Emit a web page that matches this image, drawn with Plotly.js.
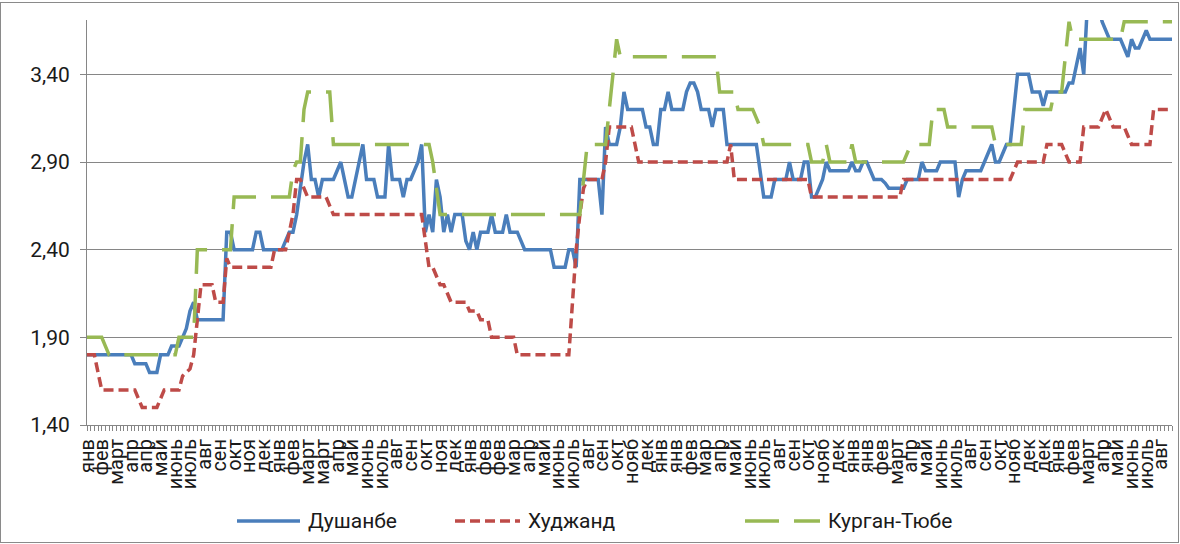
<!DOCTYPE html>
<html><head><meta charset="utf-8">
<script src="https://cdn.plot.ly/plotly-3.0.1.min.js"></script>
<style>
html,body{margin:0;padding:0;background:#fff;}
#wrap{position:relative;width:1180px;height:544px;overflow:hidden;}
#chart{position:absolute;left:0;top:0;width:1180px;height:544px;}
#frame{position:absolute;left:0;top:2px;width:1177px;height:539px;border:1px solid #8a8a8a;pointer-events:none;}
</style></head><body>
<div id="wrap"><div id="chart"></div><div id="frame"></div></div>
<script>
const dushanbe = [
1.80,1.80,1.80,1.80,1.80,1.80,1.80,1.80,1.80,1.80,
1.80,1.80,1.80,1.75,1.75,1.75,1.75,1.70,1.70,1.70,
1.80,1.80,1.80,1.85,1.85,1.85,1.90,1.95,2.05,2.10,
2.00,2.00,2.00,2.00,2.00,2.00,2.00,2.00,2.50,2.50,
2.40,2.40,2.40,2.40,2.40,2.40,2.50,2.50,2.40,2.40,
2.40,2.40,2.40,2.40,2.45,2.50,2.50,2.60,2.75,2.90,
3.00,2.80,2.80,2.70,2.80,2.80,2.80,2.80,2.85,2.90,
2.80,2.70,2.70,2.80,2.90,3.00,2.80,2.80,2.80,2.70,
2.70,2.70,3.00,2.80,2.80,2.80,2.70,2.80,2.80,2.85,
2.90,3.00,2.50,2.60,2.50,2.80,2.70,2.50,2.60,2.50,
2.60,2.60,2.60,2.45,2.40,2.50,2.40,2.50,2.50,2.50,
2.60,2.50,2.50,2.50,2.60,2.50,2.50,2.50,2.45,2.40,
2.40,2.40,2.40,2.40,2.40,2.40,2.40,2.30,2.30,2.30,
2.30,2.40,2.40,2.30,2.80,2.80,2.80,2.80,2.80,2.80,
2.60,3.10,3.00,3.00,3.00,3.10,3.30,3.20,3.20,3.20,
3.20,3.20,3.10,3.10,3.00,3.00,3.20,3.20,3.30,3.20,
3.20,3.20,3.20,3.30,3.35,3.35,3.30,3.20,3.20,3.20,
3.10,3.20,3.20,3.20,3.00,3.00,3.00,3.00,3.00,3.00,
3.00,3.00,3.00,2.85,2.70,2.70,2.70,2.80,2.80,2.80,
2.80,2.90,2.80,2.80,2.80,2.90,2.90,2.70,2.70,2.75,
2.80,2.90,2.85,2.85,2.85,2.85,2.85,2.85,2.90,2.85,
2.85,2.90,2.90,2.85,2.80,2.80,2.80,2.78,2.75,2.75,
2.75,2.75,2.75,2.80,2.80,2.80,2.80,2.90,2.85,2.85,
2.85,2.85,2.90,2.90,2.90,2.90,2.90,2.70,2.80,2.85,
2.85,2.85,2.85,2.85,2.90,2.95,3.00,2.90,2.90,2.95,
3.00,3.00,3.20,3.40,3.40,3.40,3.40,3.30,3.30,3.30,
3.22,3.30,3.30,3.30,3.30,3.30,3.30,3.35,3.35,3.45,
3.55,3.40,3.80,3.80,3.80,3.80,3.70,3.65,3.60,3.60,
3.60,3.60,3.55,3.50,3.60,3.55,3.55,3.60,3.65,3.60,
3.60,3.60,3.60,3.60,3.60,3.60
];
const khujand = [
1.80,1.80,1.80,1.70,1.60,1.60,1.60,1.60,1.60,1.60,
1.60,1.60,1.60,1.60,1.55,1.50,1.50,1.50,1.50,1.50,
1.55,1.60,1.60,1.60,1.60,1.60,1.68,1.70,1.72,1.80,
2.00,2.20,2.20,2.20,2.20,2.10,2.10,2.10,2.35,2.30,
2.30,2.30,2.30,2.30,2.30,2.30,2.30,2.30,2.30,2.30,
2.30,2.40,2.40,2.40,2.40,2.50,2.60,2.80,2.80,2.75,
2.70,2.70,2.70,2.70,2.70,2.70,2.65,2.60,2.60,2.60,
2.60,2.60,2.60,2.60,2.60,2.60,2.60,2.60,2.60,2.60,
2.60,2.60,2.60,2.60,2.60,2.60,2.60,2.60,2.60,2.60,
2.60,2.60,2.45,2.30,2.30,2.25,2.20,2.20,2.15,2.10,
2.10,2.10,2.10,2.10,2.05,2.05,2.05,2.00,2.00,2.00,
1.90,1.90,1.90,1.90,1.90,1.90,1.90,1.80,1.80,1.80,
1.80,1.80,1.80,1.80,1.80,1.80,1.80,1.80,1.80,1.80,
1.80,1.80,2.10,2.40,2.60,2.75,2.80,2.80,2.80,2.80,
2.80,2.90,3.10,3.10,3.10,3.10,3.10,3.10,3.10,3.00,
2.90,2.90,2.90,2.90,2.90,2.90,2.90,2.90,2.90,2.90,
2.90,2.90,2.90,2.90,2.90,2.90,2.90,2.90,2.90,2.90,
2.90,2.90,2.90,2.90,2.90,3.00,2.80,2.80,2.80,2.80,
2.80,2.80,2.80,2.80,2.80,2.80,2.80,2.80,2.80,2.80,
2.80,2.80,2.80,2.80,2.80,2.80,2.80,2.70,2.70,2.70,
2.70,2.70,2.70,2.70,2.70,2.70,2.70,2.70,2.70,2.70,
2.70,2.70,2.70,2.70,2.70,2.70,2.70,2.70,2.70,2.70,
2.70,2.70,2.80,2.80,2.80,2.80,2.80,2.80,2.80,2.80,
2.80,2.80,2.80,2.80,2.80,2.80,2.80,2.80,2.80,2.80,
2.80,2.80,2.80,2.80,2.80,2.80,2.80,2.80,2.80,2.80,
2.80,2.80,2.85,2.90,2.90,2.90,2.90,2.90,2.90,2.90,
2.90,3.00,3.00,3.00,3.00,3.00,2.95,2.90,2.90,2.90,
2.90,3.10,3.10,3.10,3.10,3.10,3.15,3.20,3.15,3.10,
3.10,3.10,3.10,3.05,3.00,3.00,3.00,3.00,3.00,3.00,
3.20,3.20,3.20,3.20,3.20,3.20
];
const kurganTyube = [
1.90,1.90,1.90,1.90,1.90,1.85,1.80,1.80,1.80,1.80,
1.80,1.80,1.80,1.80,1.80,1.80,1.80,1.80,1.80,1.80,
1.80,1.80,1.80,1.80,1.80,1.90,1.90,1.90,1.90,1.90,
2.40,2.40,2.40,2.40,2.40,2.40,2.40,2.40,2.40,2.40,
2.70,2.70,2.70,2.70,2.70,2.70,2.70,2.70,2.70,2.70,
2.70,2.70,2.70,2.70,2.70,2.70,2.85,2.90,2.90,3.20,
3.30,3.30,3.30,3.30,3.30,3.30,3.30,3.00,3.00,3.00,
3.00,3.00,3.00,3.00,3.00,3.00,3.00,3.00,3.00,3.00,
3.00,3.00,3.00,3.00,3.00,3.00,3.00,3.00,3.00,3.00,
3.00,3.00,3.00,3.00,2.90,2.75,2.60,2.60,2.60,2.60,
2.60,2.60,2.60,2.60,2.60,2.60,2.60,2.60,2.60,2.60,
2.60,2.60,2.60,2.60,2.60,2.60,2.60,2.60,2.60,2.60,
2.60,2.60,2.60,2.60,2.60,2.60,2.60,2.60,2.60,2.60,
2.60,2.60,2.60,2.60,2.60,2.80,3.00,3.00,3.00,3.00,
3.00,3.00,3.20,3.40,3.60,3.50,3.50,3.50,3.50,3.50,
3.50,3.50,3.50,3.50,3.50,3.50,3.50,3.50,3.50,3.50,
3.50,3.50,3.50,3.50,3.50,3.50,3.50,3.50,3.50,3.50,
3.50,3.50,3.30,3.30,3.30,3.30,3.30,3.20,3.20,3.20,
3.20,3.20,3.15,3.10,3.00,3.00,3.00,3.00,3.00,3.00,
3.00,3.00,3.00,3.00,3.00,3.00,3.00,2.90,2.90,2.90,
2.90,3.00,2.90,2.90,2.90,2.90,2.90,2.90,3.00,2.90,
2.90,2.90,2.90,2.90,2.90,2.90,2.90,2.90,2.90,2.90,
2.90,2.90,2.90,2.95,3.00,3.00,3.00,3.00,3.00,3.00,
3.20,3.20,3.20,3.20,3.10,3.10,3.10,3.10,3.10,3.10,
3.10,3.10,3.10,3.10,3.10,3.10,3.10,3.00,3.00,3.00,
3.00,3.00,3.00,3.00,3.00,3.20,3.20,3.20,3.20,3.20,
3.20,3.20,3.20,3.30,3.30,3.30,3.50,3.70,3.60,3.60,
3.60,3.60,3.60,3.60,3.60,3.60,3.60,3.60,3.60,3.60,
3.60,3.60,3.70,3.70,3.70,3.70,3.70,3.70,3.70,3.70,
3.70,3.70,3.70,3.70,3.70,3.70
];
const monthLabels = [
'янв','фев','март','апр','апр','май','июнь','июль','авг','сен','окт','ноя','дек',
'янв','фев','март','март','апр','май','июнь','июль','авг','сен','окт','ноя','дек',
'янв','фев','фев','мар','апр','май','июнь','июль','авг','сен','окт','нояб','дек',
'янв','янв','фев','мар','апр','май','июнь','июль','авг','сен','окт','нояб','дек',
'янв','янв','фев','март','апр','май','июнь','июль','авг','сен','окт','нояб','дек','дек',
'янв','фев','март','апр','май','июнь','июль','авг'
];
const seriesNames = ['Душанбе', 'Худжанд', 'Курган-Тюбе'];
const seriesColors = ['#4A7EBB', '#BE4B48', '#98B954'];
const seriesDash = ['solid', '10px,5px', '34px,15px'];
const yTickVals = [1.40, 1.90, 2.40, 2.90, 3.40];
const yTickText = ['1,40', '1,90', '2,40', '2,90', '3,40'];

const weeks = dushanbe.map((_, i) => i);
const labelStep = 4;
const labelPos = monthLabels.map((_, k) => k * labelStep);
const FONT = 'Roboto, "Liberation Sans", sans-serif';
const GRID = '#868686';
const LW = 3.5;

const seriesData = [dushanbe, khujand, kurganTyube];
const traces = seriesData.map((ys, s) => ({
  type: 'scatter', mode: 'lines', name: seriesNames[s],
  x: weeks, y: ys,
  line: {color: seriesColors[s], width: LW, dash: seriesDash[s]},
  showlegend: false, hoverinfo: 'skip'
}));

// custom legend (long line samples, like the original)
const plotL = 87, plotR = 1172, plotT = 20, plotB = 425;
const px2x = p => (p - plotL) / (plotR - plotL);
const py2y = p => (plotB - p) / (plotB - plotT);
const legendItems = [
  {x0: 237, x1: 300, tx: 306},
  {x0: 455, x1: 520, tx: 526},
  {x0: 745, x1: 820, tx: 826}
];
const legendY = 521;
const shapes = legendItems.map((it, s) => ({
  type: 'line', xref: 'paper', yref: 'paper',
  x0: px2x(it.x0), x1: px2x(it.x1), y0: py2y(legendY), y1: py2y(legendY),
  line: {color: seriesColors[s], width: LW, dash: seriesDash[s]}
}));
const annotations = legendItems.map((it, s) => ({
  xref: 'paper', yref: 'paper', x: px2x(it.tx), y: py2y(legendY),
  xanchor: 'left', yanchor: 'middle', showarrow: false,
  text: seriesNames[s], font: {family: FONT, size: 21, color: '#1a1a1a'}
}));

const layout = {
  width: 1180, height: 544,
  margin: {l: plotL, r: 1180 - plotR, t: plotT, b: 544 - plotB},
  paper_bgcolor: '#ffffff', plot_bgcolor: '#ffffff',
  font: {family: FONT, color: '#1a1a1a'},
  showlegend: false,
  xaxis: {
    range: [0, weeks.length - 1],
    tickmode: 'array', tickvals: labelPos, ticktext: monthLabels,
    tickangle: -90, tickfont: {family: FONT, size: 20, color: '#1a1a1a'},
    ticks: 'outside', ticklen: 5, tickcolor: GRID, tickwidth: 1,
    minor: {tickmode: 'array', tickvals: weeks, ticks: 'outside', ticklen: 5, tickcolor: GRID, tickwidth: 1, showgrid: false},
    showline: true, linecolor: GRID, linewidth: 1,
    showgrid: false, zeroline: false, fixedrange: true
  },
  yaxis: {
    range: [1.40, 3.71],
    tickmode: 'array', tickvals: yTickVals, ticktext: yTickText,
    tickfont: {family: FONT, size: 21, color: '#1a1a1a'},
    ticks: 'outside', ticklen: 6, tickcolor: GRID, tickwidth: 1,
    ticklabelstandoff: 6,
    showline: true, linecolor: GRID, linewidth: 1,
    showgrid: true, gridcolor: GRID, gridwidth: 1,
    zeroline: false, fixedrange: true
  },
  shapes: shapes,
  annotations: annotations
};

Plotly.newPlot('chart', traces, layout, {staticPlot: true, displayModeBar: false});
</script>
</body></html>
